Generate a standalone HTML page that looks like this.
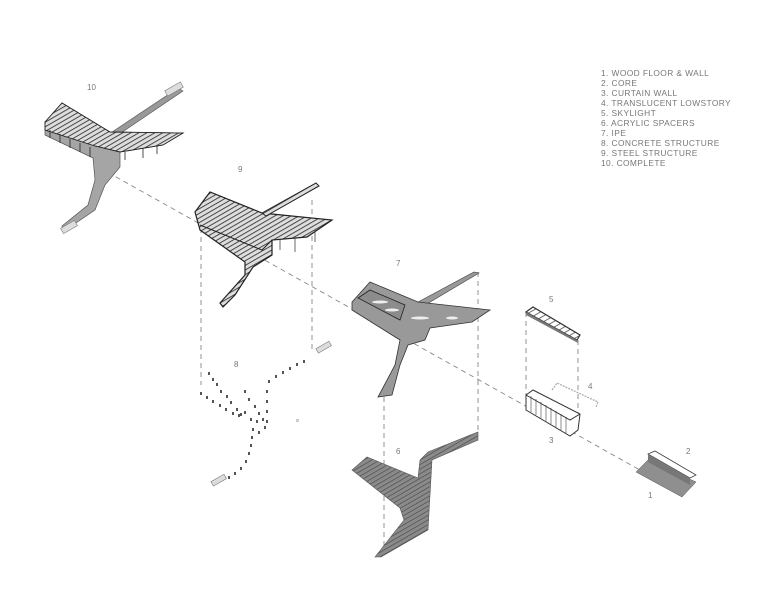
<!DOCTYPE html>
<html><head><meta charset="utf-8"><style>
html,body{margin:0;padding:0;background:#fff;}
svg{display:block;}
text{font-family:"Liberation Sans",sans-serif;fill:#777;}
</style></head><body>
<svg width="780" height="603" viewBox="0 0 780 603" xmlns="http://www.w3.org/2000/svg">
<defs>
<pattern id="hat" width="4" height="4" patternUnits="userSpaceOnUse" patternTransform="rotate(60)">
<rect width="4" height="4" fill="#8a8a8a"/><line x1="0" y1="0" x2="0" y2="4" stroke="#444" stroke-width="1.2"/></pattern>
<pattern id="rung" width="5" height="5" patternUnits="userSpaceOnUse" patternTransform="rotate(60)">
<rect width="5" height="5" fill="#fff"/><line x1="0" y1="0" x2="0" y2="5" stroke="#333" stroke-width="1.4"/></pattern>
<pattern id="steel" width="4" height="4" patternUnits="userSpaceOnUse" patternTransform="rotate(60)">
<rect width="4" height="4" fill="#ddd"/><line x1="0" y1="0" x2="0" y2="4" stroke="#222" stroke-width="1.6"/></pattern>
</defs>

<!-- legend -->
<g font-size="8.4" letter-spacing="0.4">
<text x="601" y="76">1.  WOOD FLOOR &amp; WALL</text>
<text x="601" y="86">2.  CORE</text>
<text x="601" y="96">3.  CURTAIN WALL</text>
<text x="601" y="106">4.  TRANSLUCENT LOWSTORY</text>
<text x="601" y="116">5.  SKYLIGHT</text>
<text x="601" y="126">6.  ACRYLIC SPACERS</text>
<text x="601" y="136">7.  IPE</text>
<text x="601" y="146">8.  CONCRETE STRUCTURE</text>
<text x="601" y="156">9.  STEEL STRUCTURE</text>
<text x="601" y="166">10.  COMPLETE</text>
</g>

<!-- dashed lines -->
<g stroke="#888" stroke-width="0.9" stroke-dasharray="5,4" fill="none">
<line x1="100" y1="168" x2="640" y2="470"/>
<line x1="201" y1="228" x2="201" y2="385"/>
<line x1="312" y1="200" x2="312" y2="350"/>
<line x1="384" y1="397" x2="384" y2="557"/>
<line x1="478" y1="272" x2="478" y2="432"/>
<line x1="526" y1="312" x2="526" y2="395"/>
<line x1="578" y1="340" x2="578" y2="425"/>
</g>

<!-- 10 -->
<text x="87" y="90" font-size="8">10</text>
<polygon points="112,132 178,88 183,91 118,135" fill="#999" stroke="#555" stroke-width="0.6"/>
<rect x="165" y="86" width="18" height="6" fill="#ddd" stroke="#777" stroke-width="0.6" transform="rotate(-30 174 89)"/>
<polygon points="45,122 62,103 110,132 183,133 163,145 120,152 120,167 105,185 95,210 73,225 63,230 62,226 88,205 95,180 93,158 45,135" fill="#a5a5a5" stroke="#555" stroke-width="0.7"/>
<polygon points="45,122 62,103 110,132 183,133 163,145 120,152 95,146 45,130" fill="url(#steel)" stroke="#222" stroke-width="0.9"/>
<g stroke="#222" stroke-width="0.8">
<line x1="50" y1="130" x2="50" y2="138"/><line x1="60" y1="134" x2="60" y2="143"/><line x1="70" y1="139" x2="70" y2="148"/><line x1="80" y1="143" x2="80" y2="152"/><line x1="90" y1="147" x2="90" y2="157"/>
<line x1="125" y1="152" x2="125" y2="160"/><line x1="143" y1="148" x2="143" y2="158"/><line x1="157" y1="146" x2="157" y2="154"/>
</g>
<rect x="61" y="224" width="16" height="6" fill="#ddd" stroke="#777" stroke-width="0.6" transform="rotate(-30 69 227)"/>

<!-- 9 -->
<text x="238" y="172" font-size="8">9</text>
<polygon points="195,212 210,192 262,213 332,220 307,237 272,240 272,255 253,267 235,295 223,307 220,303 245,275 245,262 200,230" fill="url(#steel)" stroke="#222" stroke-width="1.2"/>
<polyline points="200,225 262,250 272,240" fill="none" stroke="#222" stroke-width="1"/>
<polygon points="262,213 316,183 319,186 266,216" fill="url(#steel)" stroke="#222" stroke-width="1"/>
<g stroke="#444" stroke-width="0.8"><line x1="280" y1="240" x2="280" y2="250"/><line x1="295" y1="238" x2="295" y2="252"/><line x1="315" y1="230" x2="315" y2="242"/></g>

<!-- 8 dots -->
<g fill="#555">
<rect x="208" y="372" width="2" height="3"/><rect x="212" y="378" width="2" height="3"/><rect x="216" y="383" width="2" height="3"/><rect x="220" y="390" width="2" height="3"/><rect x="226" y="395" width="2" height="3"/><rect x="230" y="401" width="2" height="3"/><rect x="236" y="408" width="2" height="3"/><rect x="240" y="413" width="2" height="3"/>
<rect x="200" y="392" width="2" height="3"/><rect x="206" y="396" width="2" height="3"/><rect x="212" y="400" width="2" height="3"/><rect x="219" y="404" width="2" height="3"/><rect x="225" y="408" width="2" height="3"/><rect x="232" y="412" width="2" height="3"/><rect x="238" y="414" width="2" height="3"/><rect x="244" y="411" width="2" height="3"/><rect x="250" y="418" width="2" height="3"/><rect x="256" y="420" width="2" height="3"/>
<rect x="244" y="390" width="2" height="3"/><rect x="248" y="398" width="2" height="3"/><rect x="254" y="405" width="2" height="3"/><rect x="258" y="412" width="2" height="3"/><rect x="262" y="418" width="2" height="3"/><rect x="264" y="426" width="2" height="3"/><rect x="258" y="431" width="2" height="3"/><rect x="252" y="428" width="2" height="3"/>
<rect x="268" y="380" width="2" height="3"/><rect x="275" y="375" width="2" height="3"/><rect x="282" y="371" width="2" height="3"/><rect x="289" y="367" width="2" height="3"/><rect x="296" y="363" width="2" height="3"/><rect x="303" y="360" width="2" height="3"/>
<rect x="266" y="390" width="2" height="3"/><rect x="266" y="400" width="2" height="3"/><rect x="266" y="410" width="2" height="3"/><rect x="266" y="420" width="2" height="3"/>
<rect x="251" y="436" width="2" height="3"/><rect x="250" y="444" width="2" height="3"/><rect x="248" y="452" width="2" height="3"/><rect x="245" y="460" width="2" height="3"/><rect x="240" y="467" width="2" height="3"/><rect x="234" y="472" width="2" height="3"/><rect x="228" y="476" width="2" height="3"/>
</g>
<rect x="296" y="419" width="3" height="3" fill="#ccc"/>
<text x="234" y="367" font-size="8">8</text>
<rect x="316" y="345" width="15" height="5" fill="#ddd" stroke="#777" stroke-width="0.6" transform="rotate(-30 323 347)"/>
<rect x="211" y="478" width="15" height="5" fill="#ddd" stroke="#777" stroke-width="0.6" transform="rotate(-30 218 480)"/>

<!-- 7 -->
<text x="396" y="266" font-size="8">7</text>
<polygon points="418,302 474,272 479,273 420,308" fill="#999" stroke="#444" stroke-width="0.6"/>
<polygon points="352,302 370,282 418,302 490,310 472,322 430,328 425,340 408,345 400,365 392,395 378,397 395,365 400,340 352,310" fill="#999" stroke="#333" stroke-width="0.8"/>
<polygon points="358,298 370,290 405,305 400,320" fill="#8c8c8c" stroke="#222" stroke-width="0.8"/>
<g fill="#eee"><ellipse cx="380" cy="302" rx="8" ry="1.5"/><ellipse cx="392" cy="310" rx="7" ry="1.5"/><ellipse cx="420" cy="318" rx="9" ry="1.5"/><ellipse cx="452" cy="318" rx="6" ry="1.5"/></g>

<!-- 6 -->
<text x="396" y="454" font-size="8">6</text>
<polygon points="352,470 367,457 418,478 420,460 428,452 478,432 478,440 432,460 428,530 407,542 381,557 375,557 404,520 400,508" fill="url(#hat)" stroke="#555" stroke-width="0.6"/>

<!-- 5 -->
<text x="549" y="302" font-size="8">5</text>
<polygon points="526,312 533,307 580,335 577,340" fill="url(#rung)" stroke="#333" stroke-width="1.2"/>
<polygon points="526,312 577,340 578,343 526,315" fill="#777"/>

<!-- 4 -->
<text x="588" y="389" font-size="8">4</text>
<polyline points="552,390 557,383 598,402 596,407" fill="none" stroke="#aaa" stroke-width="1.2" stroke-dasharray="2,1"/>

<!-- 3 -->
<text x="549" y="443" font-size="8">3</text>
<polygon points="526,395 533,390 580,414 578,430 570,436 526,410" fill="#fff" stroke="#333" stroke-width="1"/>
<g stroke="#444" stroke-width="0.6">
<line x1="531" y1="396" x2="531" y2="412"/><line x1="536" y1="399" x2="536" y2="415"/><line x1="541" y1="402" x2="541" y2="418"/><line x1="546" y1="405" x2="546" y2="421"/><line x1="551" y1="408" x2="551" y2="424"/><line x1="556" y1="411" x2="556" y2="427"/><line x1="561" y1="414" x2="561" y2="430"/><line x1="566" y1="417" x2="566" y2="433"/>
</g>
<polyline points="526,395 570,420 580,414" fill="none" stroke="#333" stroke-width="1"/>

<!-- 2/1 -->
<text x="686" y="454" font-size="8">2</text>
<text x="648" y="498" font-size="8">1</text>
<polygon points="636,472 648,460 696,482 682,497" fill="#8f8f8f" stroke="#555" stroke-width="0.5"/>
<polygon points="648,454 655,451 696,475 690,478" fill="#fff" stroke="#444" stroke-width="0.8"/>
<polygon points="648,454 690,478 690,485 648,462" fill="#777"/>
</svg>
</body></html>
